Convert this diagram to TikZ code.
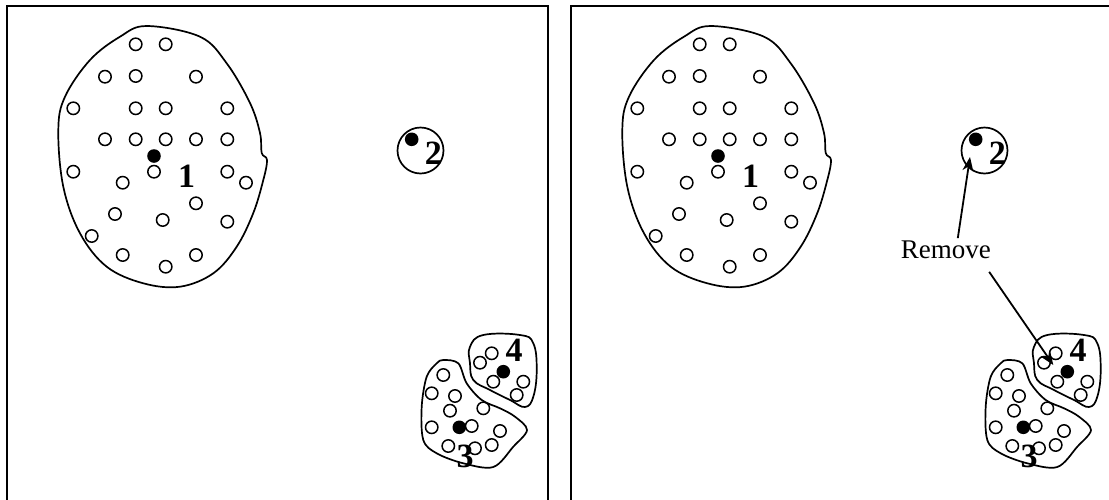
\documentclass[tikz,border=0pt]{standalone}
\usepackage{fontspec}
\setmainfont{Liberation Serif}
\usetikzlibrary{arrows.meta}

\tikzset{
  pt/.style={circle,draw,line width=0.75pt,minimum size=6.2pt,inner sep=0pt},
  ctr/.style={circle,fill,minimum size=6.8pt,inner sep=0pt},
  region/.style={line width=0.85pt},
  num/.style={font=\fontsize{17}{17}\selectfont\bfseries,inner sep=0pt},
  frame/.style={line width=1.1pt},
  arr/.style={line width=0.9pt,-{Stealth[length=7pt,width=5.5pt]}}
}

\begin{document}
\begin{tikzpicture}[x=0.5pt,y=-0.5pt]
  \clip (0,0) rectangle (1109,499);

  % the two panels, the same data in both
  \foreach \dx/\s in {0/L,564/R}{
  \begin{scope}[shift={(\dx,0)}]
    % Draw the frame
    \draw[frame] (7,510) -- (7,6) -- (548,6) -- (548,510);

    % Draw cluster 1
    \draw[region] plot[smooth cycle,tension=0.6] coordinates {
      (146.7,26) (200,36.7) (226.7,63.3) (250,103) (260,133) (261.7,153)
      (267,160) (263.3,180) (253.3,213) (236.7,246.7) (213.3,273.3)
      (180,286.7) (143.3,283.3) (106.7,266.7) (80,233.3) (63.3,186.7)
      (58.3,130) (65,96.7) (90,60) (120,36.7)};
    \foreach \p [count=\i] in {(135.7,44.3),(165.7,44.3),(105,76.7),(135.7,76),
        (196,76.7),(73.3,108.3),(135.7,108.3),(165.7,108.3),(227.3,108.3),
        (105,139.3),(135.7,139.3),(165.7,139.3),(196,139.3),(227.3,139.3),
        (73.3,171.7),(154,171.7),(227.3,171.7),(246,182.7),(122.7,182.7),
        (196,203.3),(115,214),(162.7,220),(227.3,221.7),(91.7,236),
        (122.7,255),(196,255),(165.7,266.7)}
      \node[pt] (a\i\s) at \p {};
    \node[ctr] (c1\s) at (154,156) {};
    \node[num] (n1\s) at (186.7,176.7) {1};

    % Draw cluster 2
    \node[circle,draw,region,minimum size=23pt,inner sep=0pt] (r2\s) at (420.5,150.5) {};
    \node[ctr] (c2\s) at (411.7,139.3) {};
    \node[num] (n2\s) at (433.3,153.3) {2};

    % Draw cluster 4
    \draw[region] plot[smooth cycle,tension=0.7] coordinates {
      (470,346.7) (483.3,335) (520,335) (533.3,343.3) (536.7,370)
      (533.3,396.7) (525,407) (510,400) (490,390) (473.3,380) (470,363.3)};
    \foreach \p [count=\i] in {(491.7,353.3),(480,362.7),(493.3,381.7),
        (523.3,381.7),(516.7,395)}
      \node[pt] (d\i\s) at \p {};
    \node[ctr] (c4\s) at (503.3,371.7) {};
    \node[num] (n4\s) at (514,350) {4};

    % Draw cluster 3
    \draw[region] plot[smooth cycle,tension=0.55] coordinates {
      (443.3,360) (458.3,363.3) (466.7,383.3) (481.7,400) (500,408.3)
      (515,416.7) (527,430) (513.3,446.7) (493.3,467) (463.3,463.3)
      (436.7,453.3) (423.3,440) (421.7,406.7) (426.7,376.7) (436.7,363.3)};
    \foreach \p [count=\i] in {(443.3,375),(431.7,393.3),(455,396),(450,410.7),
        (483.3,408.3),(431.7,427.3),(471.7,426),(500,431),(448.3,446),
        (475,448.3),(491.7,445)}
      \node[pt] (b\i\s) at \p {};
    \node[ctr] (c3\s) at (459.3,427.3) {};
    \node[num] (n3\s) at (465,456) {3};
  \end{scope}}

  % Draw the remove arrows
  \node[font=\fontsize{13.5}{13.5}\selectfont,inner sep=1pt] (remove) at (945.8,249.5) {Remove};
  \coordinate (tip2) at (970,157);
  \coordinate (tip4) at (1053.3,365);
  \draw[arr] ([xshift=6pt]remove.north) -- (tip2);
  \draw[arr] ([shift={(-4,11)}]remove.south east) -- (tip4);
\end{tikzpicture}
\end{document}
